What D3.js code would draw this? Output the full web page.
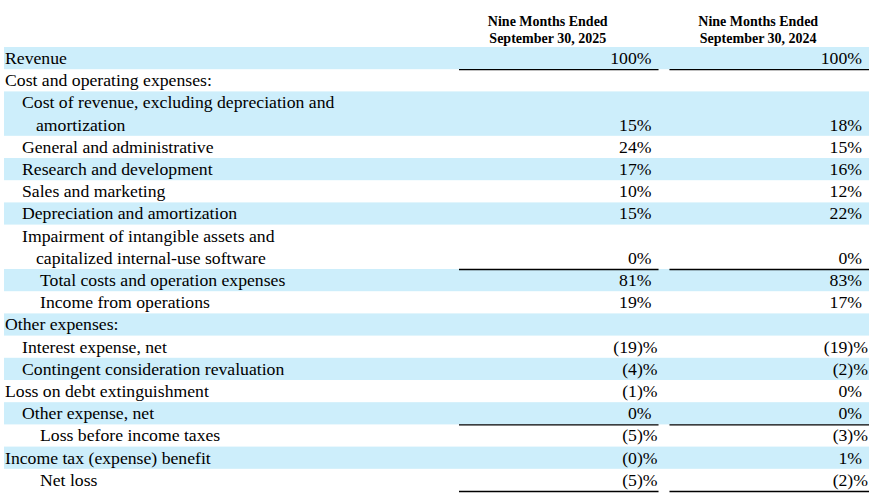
<!DOCTYPE html>
<html>
<head>
<meta charset="utf-8">
<script src="https://cdn.jsdelivr.net/npm/d3@7"></script>
<style>
  body { margin: 0; background: #fff; }
</style>
</head>
<body>
<div id="table"></div>
<script>
// Row labels; a row with two strings wraps onto a second line
const labels = [
  ["Revenue"],
  ["Cost and operating expenses:"],
  ["Cost of revenue, excluding depreciation and", "amortization"],
  ["General and administrative"],
  ["Research and development"],
  ["Sales and marketing"],
  ["Depreciation and amortization"],
  ["Impairment of intangible assets and", "capitalized internal-use software"],
  ["Total costs and operation expenses"],
  ["Income from operations"],
  ["Other expenses:"],
  ["Interest expense, net"],
  ["Contingent consideration revaluation"],
  ["Loss on debt extinguishment"],
  ["Other expense, net"],
  ["Loss before income taxes"],
  ["Income tax (expense) benefit"],
  ["Net loss"]
];
const indent = [0, 0, 1, 1, 1, 1, 1, 1, 2, 2, 0, 1, 1, 0, 1, 2, 0, 2];
const periods = ["Nine Months Ended|September 30, 2025", "Nine Months Ended|September 30, 2024"];
const values2025 = [100, null, 15, 24, 17, 10, 15, 0, 81, 19, null, -19, -4, -1, 0, -5, -0, -5];
const values2024 = [100, null, 18, 15, 16, 12, 22, 0, 83, 17, null, -19, -2, 0, 0, -3, 1, -2];
const underlined = [0, 7, 14, 17];

const width = 869, height = 497;
const serif = "'Liberation Serif', 'Times New Roman', Times, serif";
const svg = d3.select("#table").append("svg").attr("width", width).attr("height", height)
  .style("font-family", serif);

// line positions: each row takes one or two text lines
const starts = [];
let total = 0;
labels.forEach(l => { starts.push(total); total += l.length; });
const y = d3.scaleLinear().domain([0, total]).range([47, 491]);
const x = d3.scaleBand().domain(periods).range([459, 869]).paddingInner(0.052);

const neg = v => v < 0 || Object.is(v, -0);
const fmt = v => neg(v) ? `(${Math.abs(v)})%` : `${v}%`;

// shaded bands on alternate rows
svg.selectAll("rect.band")
  .data(labels.map((l, i) => i).filter(i => i % 2 === 0))
  .enter().append("rect")
  .attr("x", 4)
  .attr("width", width - 4)
  .attr("y", i => y(starts[i]))
  .attr("height", i => y(starts[i] + labels[i].length) - y(starts[i]))
  .attr("fill", "#cdeefb");

// column headings
const head = svg.selectAll("text.head").data(periods).enter().append("text")
  .attr("class", "head")
  .attr("font-family", serif)
  .attr("text-anchor", "middle")
  .attr("font-weight", "bold")
  .attr("font-size", 14);
head.selectAll("tspan").data(d => d.split("|").map(s => ({ s, p: d }))).enter().append("tspan")
  .attr("x", d => x(d.p) + x.bandwidth() / 2 - 11)
  .attr("y", (d, i) => 26 + i * 17)
  .text(d => d.s);

// row labels
const indentX = [5, 22, 40];
labels.forEach((l, i) => {
  l.forEach((s, j) => {
    svg.append("text")
      .attr("font-family", serif)
      .attr("x", j === 0 ? indentX[indent[i]] : indentX[indent[i]] + 14)
      .attr("y", y(starts[i] + j) + 17)
      .attr("font-size", 17.7)
      .text(s);
  });
});

// values
[values2025, values2024].forEach((vals, c) => {
  const right = x(periods[c]) + x.bandwidth();
  svg.selectAll(`text.v${c}`)
    .data(vals.map((v, i) => ({ v, i })).filter(d => d.v !== null))
    .enter().append("text")
    .attr("class", `v${c}`)
    .attr("font-family", serif)
    .attr("text-anchor", "end")
    .attr("font-size", 17.7)
    .attr("x", d => neg(d.v) ? right - 1 : right - 7)
    .attr("y", d => y(starts[d.i] + labels[d.i].length - 1) + 17)
    .text(d => fmt(d.v));

  svg.selectAll(`line.u${c}`)
    .data(underlined)
    .enter().append("line")
    .attr("x1", x(periods[c]))
    .attr("x2", right)
    .attr("y1", i => y(starts[i] + labels[i].length) + 0.5)
    .attr("y2", i => y(starts[i] + labels[i].length) + 0.5)
    .attr("stroke", "#000")
    .attr("stroke-width", 1.3);
});
</script>
</body>
</html>
